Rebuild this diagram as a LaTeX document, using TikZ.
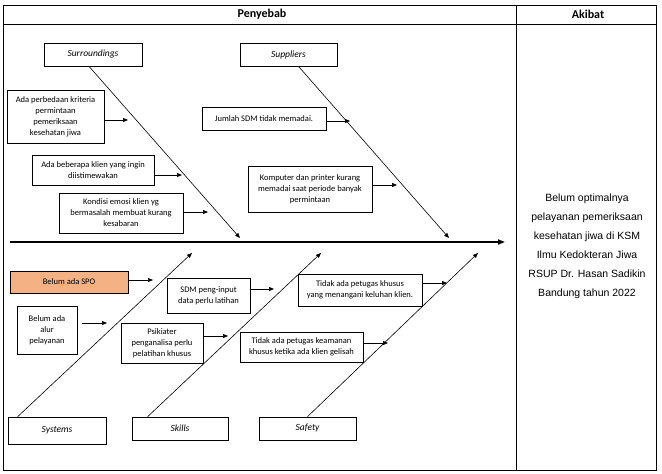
\documentclass[tikz,border=0pt]{standalone}
\usepackage{fontspec}
\setmainfont{Carlito}
\newfontfamily\arialfont{Liberation Sans}
\usetikzlibrary{arrows.meta}
\definecolor{spofill}{RGB}{244,177,131}

\begin{document}
\begin{tikzpicture}[x=1pt, y=-1pt, line width=0.7pt, >={Triangle[length=5pt,width=4pt]}]

	% Stil untuk kotak kategori dan kotak penyebab
	\tikzset{
		kategori/.style={
			draw,
			minimum height=23pt,
			inner sep=1pt,
			font=\fontsize{9.5}{11}\selectfont\itshape
		},
		sebab/.style={
			draw,
			align=center,
			inner sep=1pt,
			font=\fontsize{8.5}{11}\selectfont
		},
		tulang/.style={->, line width=0.6pt},
		panah/.style={->, line width=0.7pt}
	}

	\useasboundingbox (0,0) rectangle (662,474);

	% Tabel Penyebab / Akibat
	\draw[line width=1pt] (3,5) rectangle (656,470);
	\draw[line width=1pt] (3,24) -- (656,24);
	\draw[line width=1pt] (516,5) -- (516,470);
	\node[font=\fontsize{12}{14}\selectfont\bfseries] (penyebab) at (262,14) {Penyebab};
	\node[font=\fontsize{12}{14}\selectfont\bfseries] (akibat) at (588,14) {Akibat};

	% Akibat
	\node[font=\arialfont\fontsize{10.5}{19}\selectfont, align=center] (masalah) at (587,246)
		{Belum optimalnya\\pelayanan pemeriksaan\\kesehatan jiwa di KSM\\Ilmu Kedokteran Jiwa\\RSUP Dr. Hasan Sadikin\\Bandung tahun 2022};

	% Tulang utama
	\coordinate (ekor) at (10,242);
	\coordinate (kepala) at (505,242);
	\draw[->, line width=1.6pt, >={Triangle[length=7pt,width=5pt]}] (ekor) -- (kepala);

	% Kategori
	\node[kategori, minimum width=98pt] (surr) at (93,54.5) {Surroundings};
	\node[kategori, minimum width=97pt] (supp) at (288.5,54.5) {Suppliers};
	\node[kategori, minimum width=98pt, minimum height=27pt] (sys) at (57,430.5) {Systems};
	\node[kategori, minimum width=96pt] (skl) at (180,428.5) {Skills};
	\node[kategori, minimum width=97pt] (saf) at (307.5,428.5) {Safety};

	% Tulang kategori
	\coordinate (u1) at (240,238);
	\coordinate (u2) at (449,238);
	\coordinate (b1) at (192,253);
	\coordinate (b2) at (321,253);
	\coordinate (b3) at (478,253);
	\draw[tulang] ([xshift=-4pt]surr.south) -- (u1);
	\draw[tulang] ([xshift=10pt]supp.south) -- (u2);
	\draw[tulang] ([xshift=10pt]sys.north west) -- (b1);
	\draw[tulang] ([xshift=16pt]skl.north west) -- (b2);
	\draw[tulang] (saf.north) -- (b3);

	% Surroundings
	\node[sebab, minimum width=97pt, minimum height=53pt] (c1) at (55.5,116.5)
		{Ada perbedaan kriteria\\permintaan\\pemeriksaan\\kesehatan jiwa};
	\node[sebab, minimum width=122pt, minimum height=30pt] (c2) at (93,170)
		{Ada beberapa klien yang ingin\\diistimewakan};
	\node[sebab, minimum width=124pt, minimum height=40pt] (c3) at (121,213)
		{Kondisi emosi klien yg\\bermasalah membuat kurang\\kesabaran};
	\coordinate (a1) at (128,120);
	\coordinate (a2) at (182,175);
	\coordinate (a3) at (208,212);
	\draw[panah] (c1.east |- a1) -- (a1);
	\draw[panah] (c2.east |- a2) -- (a2);
	\draw[panah] (c3.east |- a3) -- (a3);

	% Suppliers
	\node[sebab, minimum width=124pt, minimum height=23pt] (c4) at (264,118.5)
		{Jumlah SDM tidak memadai.};
	\node[sebab, minimum width=124pt, minimum height=46pt] (c5) at (310,189)
		{Komputer dan printer kurang\\memadai saat periode banyak\\permintaan};
	\coordinate (a4) at (350,121);
	\coordinate (a5) at (397,185);
	\draw[panah] (c4.east |- a4) -- (a4);
	\draw[panah] (c5.east |- a5) -- (a5);

	% Systems
	\node[sebab, fill=spofill, minimum width=118pt, minimum height=22pt] (c6) at (69,282)
		{Belum ada SPO};
	\node[sebab, minimum width=60pt, minimum height=48pt] (c7) at (47,330)
		{Belum ada\\alur\\pelayanan};
	\coordinate (a6) at (153,280);
	\coordinate (a7) at (107,323);
	\draw[panah] (c6.east |- a6) -- (a6);
	\draw[panah, shorten <=5pt] (c7.east |- a7) -- (a7);

	% Skills
	\node[sebab, minimum width=83pt, minimum height=35pt] (c9) at (208.5,295.5)
		{SDM peng-input\\data perlu latihan};
	\node[sebab, minimum width=82pt, minimum height=40pt] (c8) at (162,343)
		{Psikiater\\penganalisa perlu\\pelatihan khusus};
	\coordinate (a8) at (228,336);
	\coordinate (a9) at (274,289);
	\draw[panah] (c8.east |- a8) -- (a8);
	\draw[panah] (c9.east |- a9) -- (a9);

	% Safety
	\node[sebab, minimum width=124pt, minimum height=32pt] (c10) at (360,290)
		{Tidak ada petugas khusus\\yang menangani keluhan klien.};
	\node[sebab, minimum width=123pt, minimum height=30pt] (c11) at (301.5,347)
		{Tidak ada petugas keamanan\\khusus ketika ada klien gelisah};
	\coordinate (a10) at (447,283);
	\coordinate (a11) at (388,343);
	\draw[panah] (c10.east |- a10) -- (a10);
	\draw[panah] (c11.east |- a11) -- (a11);

\end{tikzpicture}
\end{document}
